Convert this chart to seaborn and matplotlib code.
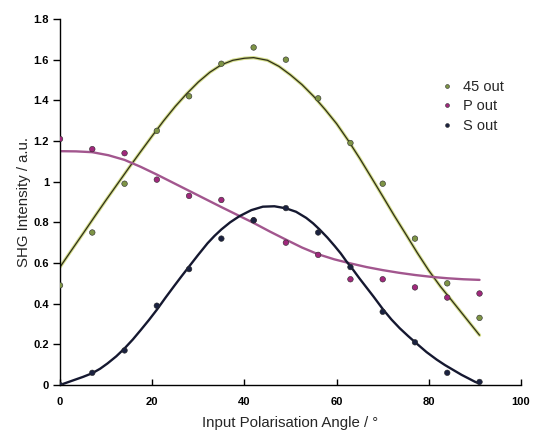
import numpy as np
import pandas as pd
import matplotlib
matplotlib.use("Agg")
import matplotlib.pyplot as plt
import seaborn as sns
from matplotlib.ticker import FuncFormatter

# ---- measured data points ----
angles = [0, 7, 14, 21, 28, 35, 42, 49, 56, 63, 70, 77, 84, 91]
out45 = [0.49, 0.75, 0.99, 1.25, 1.42, 1.58, 1.66, 1.60, 1.41, 1.19, 0.99, 0.72, 0.50, 0.33]
p_out = [1.21, 1.16, 1.14, 1.01, 0.93, 0.91, 0.81, 0.70, 0.64, 0.52, 0.52, 0.48, 0.43, 0.45]
s_out = [0.00, 0.06, 0.17, 0.39, 0.57, 0.72, 0.81, 0.87, 0.75, 0.58, 0.36, 0.21, 0.06, 0.015]

# ---- fitted curves ----
fit45_x = [0, 2.5, 5, 7.5, 10, 12.5, 15, 17.5, 20, 22.5, 25, 27.5, 30, 32.5, 35, 37.5, 40, 42,
           45, 47.5, 50, 52.5, 55, 57.5, 60, 62.5, 65, 67.5, 70, 72.5, 75, 77.5, 80, 82.5, 85, 88, 91]
fit45_y = [0.58, 0.663, 0.745, 0.828, 0.91, 0.99, 1.07, 1.148, 1.225, 1.3, 1.37, 1.433, 1.49, 1.538,
           1.575, 1.597, 1.607, 1.61, 1.597, 1.567, 1.525, 1.477, 1.42, 1.355, 1.285, 1.203, 1.115,
           1.022, 0.928, 0.833, 0.742, 0.65, 0.563, 0.485, 0.415, 0.33, 0.245]

fitP_x = [0, 3.5, 7, 10.5, 14, 17.5, 21, 24.5, 28, 31.5, 35, 38.5, 42, 45.5, 49, 52.5, 56, 59.5,
          63, 66.5, 70, 73.5, 77, 80.5, 84, 87.5, 91]
fitP_y = [1.15, 1.149, 1.145, 1.13, 1.107, 1.073, 1.035, 0.995, 0.955, 0.915, 0.875, 0.836, 0.797,
          0.755, 0.715, 0.676, 0.643, 0.618, 0.598, 0.58, 0.565, 0.552, 0.541, 0.532, 0.525, 0.52, 0.517]

fitS_x = [0, 1, 3, 5, 7, 8.7, 10.3, 12.2, 14, 15.8, 17.5, 19.3, 21, 22.9, 24.8, 26.3, 27.7, 29.9, 32,
          33.5, 35, 36.9, 38.9, 41.5, 44, 46.5, 49, 51.2, 53.4, 54.9, 56.3, 58, 59.6, 60.9, 62.1, 63.6,
          65, 66.5, 68, 70.1, 71.9, 73.7, 75.5, 77.3, 79.5, 81.7, 83.5, 85.3, 87.1, 88.9, 90, 91]
fitS_y = [0.0, 0.008, 0.024, 0.04, 0.058, 0.08, 0.106, 0.141, 0.18, 0.224, 0.27, 0.32, 0.37, 0.43, 0.488,
          0.533, 0.574, 0.638, 0.697, 0.733, 0.765, 0.80, 0.83, 0.86, 0.877, 0.879, 0.869, 0.852, 0.822,
          0.795, 0.765, 0.725, 0.683, 0.647, 0.609, 0.566, 0.523, 0.479, 0.435, 0.371, 0.322, 0.279, 0.241,
          0.205, 0.162, 0.125, 0.098, 0.074, 0.05, 0.029, 0.016, 0.007]

series_names = ["45 out", "P out", "S out"]

sns.set_theme(style="white")
plt.rcParams["font.family"] = ["Liberation Sans", "DejaVu Sans"]

fig = plt.figure(figsize=(5.33, 4.37), dpi=100)
ax = fig.add_axes([0.1126, 0.119, 0.8649, 0.8375])

# curves
sns.lineplot(x=fit45_x, y=fit45_y, ax=ax, color="#d3dc8a", lw=2.4, sort=False, estimator=None, legend=False)
sns.lineplot(x=fit45_x, y=fit45_y, ax=ax, color="#2e2e18", lw=0.9, sort=False, estimator=None, legend=False)
sns.lineplot(x=fitP_x, y=fitP_y, ax=ax, color="#a2568e", lw=1.7, sort=False, estimator=None, legend=False)
sns.lineplot(x=fitS_x, y=fitS_y, ax=ax, color="#151830", lw=1.7, sort=False, estimator=None, legend=False)

# points
df = pd.DataFrame({
    "angle": angles * 3,
    "value": out45 + p_out + s_out,
    "series": [series_names[0]] * len(angles) + [series_names[1]] * len(angles) + [series_names[2]] * len(angles),
})
palette = {"45 out": "#7e9446", "P out": "#a0287c", "S out": "#1b2240"}
sns.scatterplot(data=df, x="angle", y="value", hue="series", palette=palette, ax=ax,
                s=16, edgecolor="#2a2a2a", linewidth=0.4, zorder=5, legend=True)

ax.set_xlim(0, 100)
ax.set_ylim(0, 1.8)
ax.set_xticks([0, 20, 40, 60, 80, 100])
ax.set_yticks([0, 0.2, 0.4, 0.6, 0.8, 1.0, 1.2, 1.4, 1.6, 1.8])
ax.yaxis.set_major_formatter(FuncFormatter(lambda v, p: "%g" % round(v, 2)))
ax.xaxis.set_major_formatter(FuncFormatter(lambda v, p: "%g" % v))

for s in ["top", "right"]:
    ax.spines[s].set_visible(False)
for s in ["left", "bottom"]:
    ax.spines[s].set_color("black")
    ax.spines[s].set_linewidth(1.0)

ax.tick_params(axis="y", direction="out", length=5, width=1, colors="black", labelsize=8, pad=3, left=True)
ax.tick_params(axis="x", direction="in", length=4, width=1, colors="black", labelsize=8, pad=9, bottom=True)
for lab in ax.get_xticklabels() + ax.get_yticklabels():
    lab.set_fontweight("bold")

ax.set_xlabel("Input Polarisation Angle / °", fontsize=10.8, labelpad=6)
ax.set_ylabel("SHG Intensity / a.u.", fontsize=10.8, labelpad=2)

leg = ax.legend(loc="upper left", bbox_to_anchor=(0.795, 0.85), frameon=False, fontsize=10.5,
                handletextpad=0.1, labelspacing=0.38, markerscale=0.7, borderaxespad=0)

ax.set_facecolor("white")
fig.patch.set_facecolor("white")
fig.savefig("out.png", dpi=100, facecolor="white")
